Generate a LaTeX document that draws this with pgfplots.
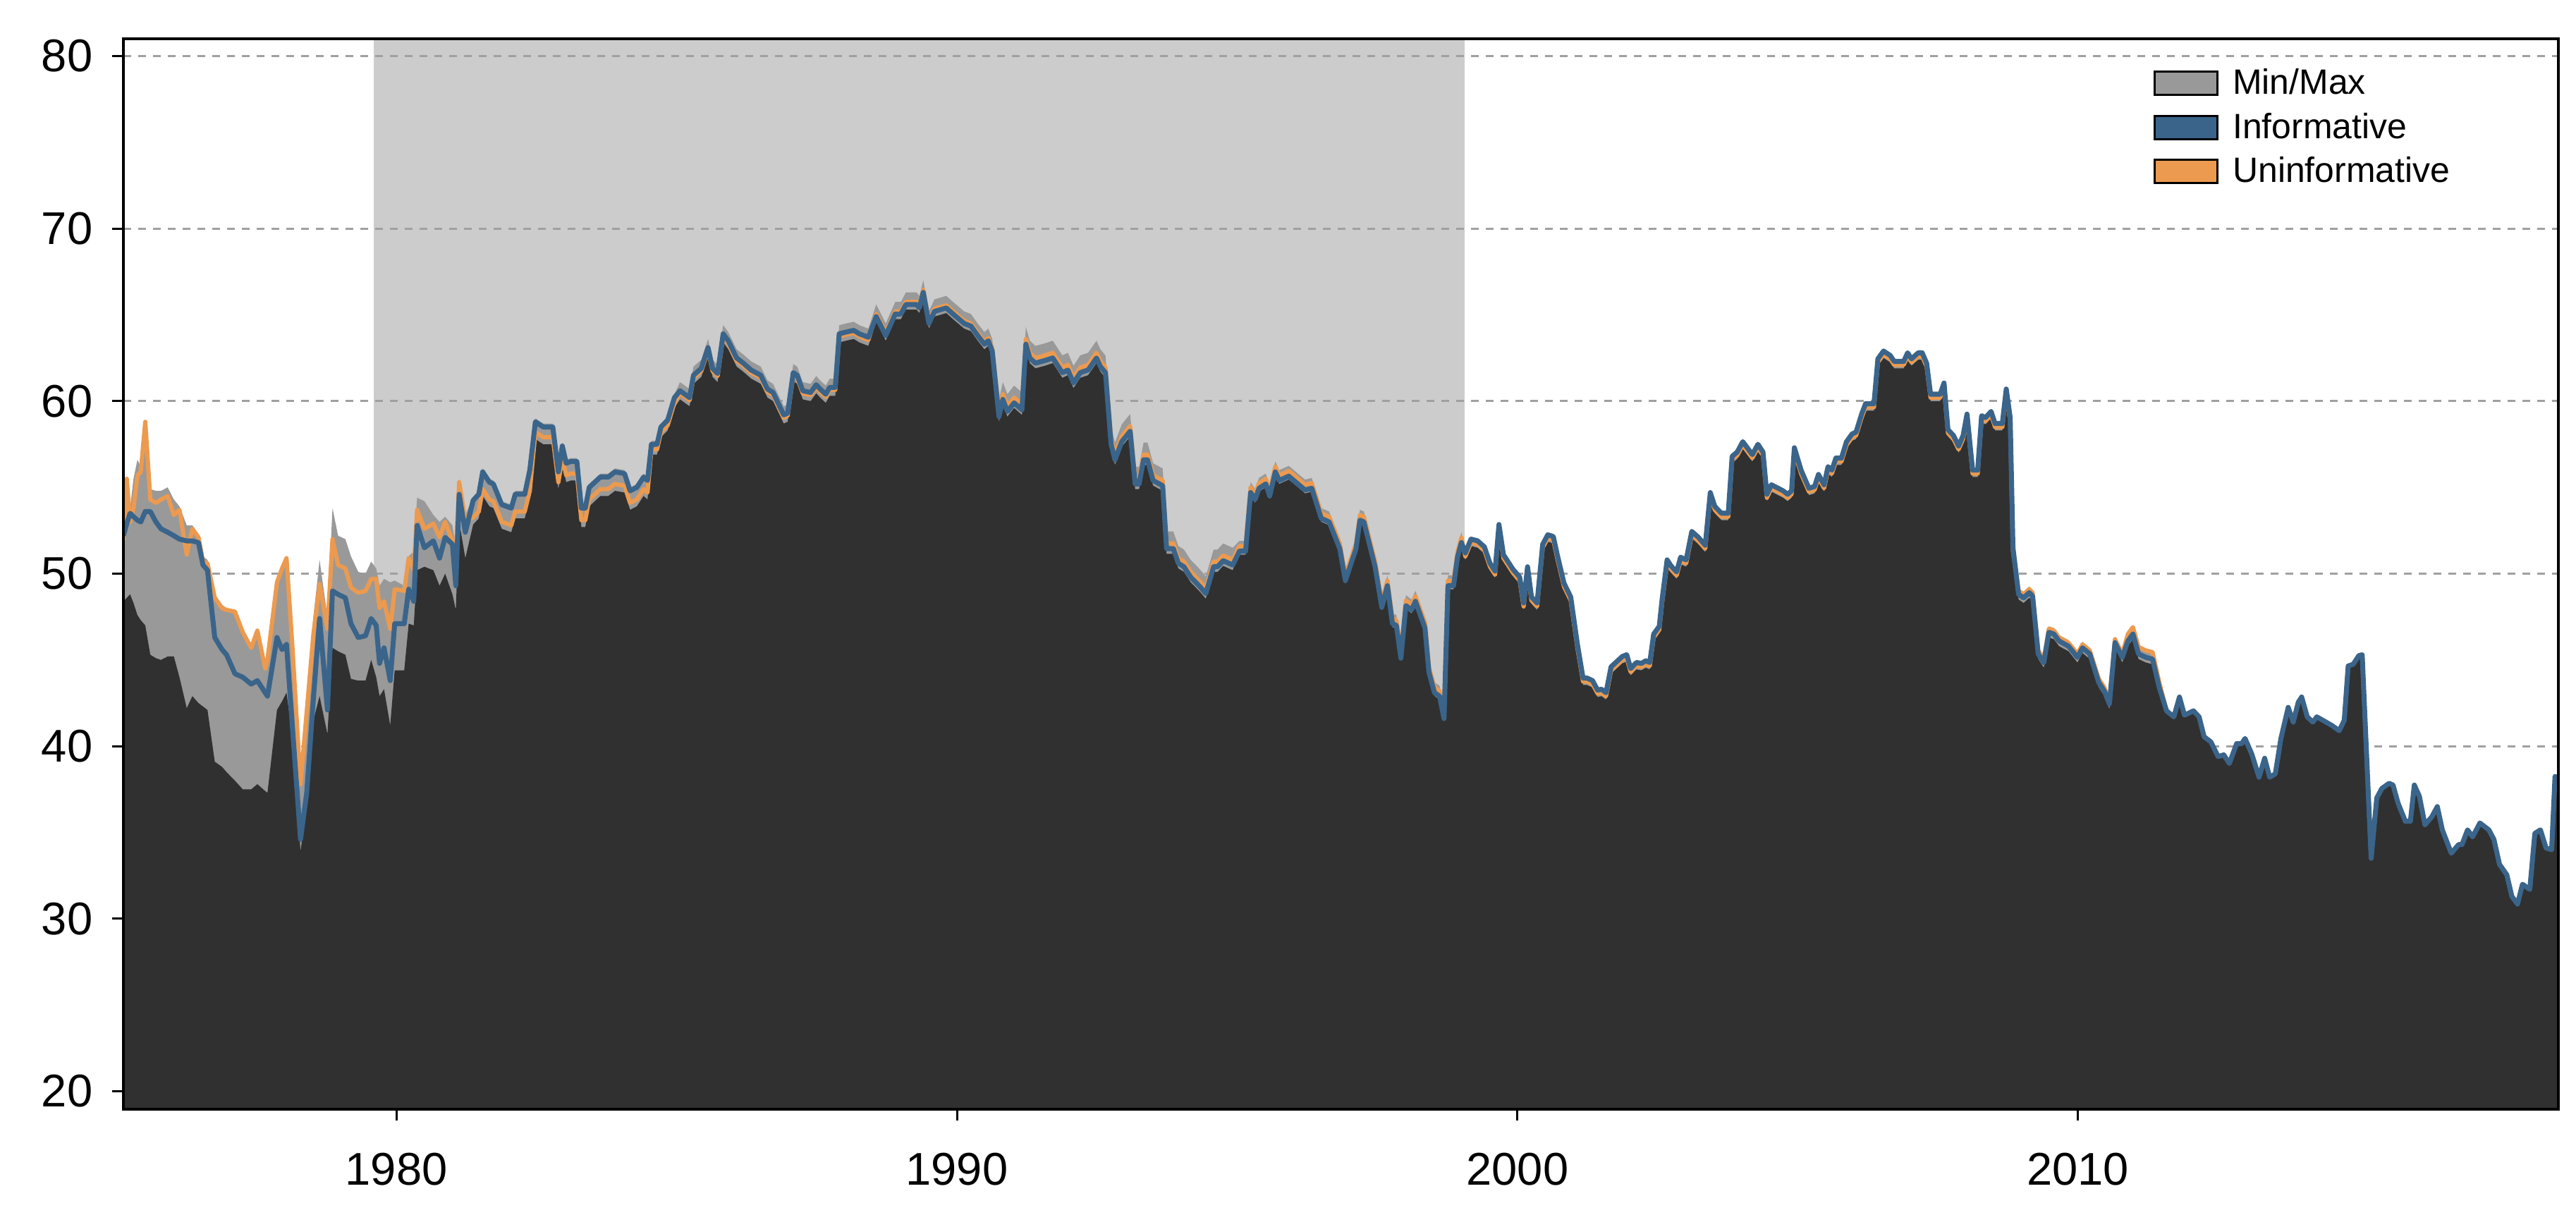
\documentclass[border=0pt]{standalone}
\usepackage{fontspec}
\setmainfont{Liberation Sans}
\usepackage{pgfplots}
\usepackage{pgfplotstable}
\pgfplotsset{compat=1.18}
\definecolor{spangray}{HTML}{CCCCCC}
\definecolor{mmgray}{HTML}{999999}
\definecolor{darkfill}{HTML}{303030}
\definecolor{infblue}{HTML}{3A648A}
\definecolor{unforange}{HTML}{EC9A4F}
\definecolor{gridgray}{HTML}{A0A0A0}
\pgfplotsset{
  layers/mylayers/.define layer set={
    axis background,axis grid,pre main,main,axis ticks,axis lines,
    axis tick labels,axis descriptions,axis foreground
  }{/pgfplots/layers/standard},
}
\pgfplotstableread{
x inf unf mn mx
1975.13 52.2 51.9 48.4 52.5
1975.19 52.9 55.5 48.6 55.6
1975.25 53.5 53.0 48.8 53.8
1975.31 53.3 53.8 48.3 55.5
1975.38 53.1 55.7 47.6 56.6
1975.44 53.0 55.9 47.3 56.2
1975.52 53.6 58.8 47.0 58.9
1975.61 53.6 54.3 45.3 54.9
1975.71 53.0 54.1 45.1 54.8
1975.80 52.6 54.3 45.0 54.8
1975.92 52.4 54.5 45.2 55.0
1976.03 52.2 53.4 45.2 54.3
1976.13 52.0 53.7 44.0 53.9
1976.26 51.9 51.1 42.2 52.8
1976.36 51.9 52.6 42.9 52.8
1976.47 51.8 52.1 42.5 52.3
1976.55 50.5 50.7 42.3 51.0
1976.63 50.2 50.6 42.1 50.8
1976.76 46.3 48.6 39.1 48.8
1976.89 45.6 48.0 38.8 48.2
1976.97 45.3 47.9 38.5 48.0
1977.12 44.2 47.8 38.0 47.9
1977.26 44.0 46.6 37.5 46.8
1977.41 43.6 45.7 37.5 45.9
1977.52 43.8 46.7 37.8 46.8
1977.66 43.1 44.5 37.4 44.7
1977.70 42.9 45.0 37.3 45.2
1977.87 46.3 49.5 42.1 49.6
1977.96 45.6 50.3 42.6 50.4
1978.04 45.9 50.9 43.1 51.0
1978.15 40.9 45.5 40.4 45.6
1978.29 34.6 37.8 33.9 37.9
1978.40 37.3 42.0 36.6 42.5
1978.52 42.8 46.5 41.5 47.5
1978.63 47.4 49.4 42.9 50.8
1978.77 42.1 46.8 40.7 47.5
1978.86 49.0 52.0 45.7 53.8
1978.96 48.8 50.5 45.5 52.2
1979.09 48.6 50.3 45.3 52.0
1979.19 47.1 49.2 43.9 51.0
1979.32 46.3 48.9 43.8 50.1
1979.45 46.4 49.0 43.8 50.0
1979.55 47.4 49.7 45.0 50.7
1979.64 47.0 49.7 44.0 50.3
1979.70 44.8 48.0 42.9 49.3
1979.78 45.7 48.4 43.3 49.7
1979.89 43.8 46.8 41.2 49.5
1979.97 47.1 49.1 44.4 49.6
1980.14 47.1 49.0 44.4 49.3
1980.22 49.1 50.9 47.1 51.0
1980.31 48.4 50.2 47.0 51.3
1980.37 52.8 53.7 50.2 54.4
1980.50 51.5 52.6 50.4 54.2
1980.66 51.9 52.9 50.2 53.4
1980.77 50.9 52.1 49.3 53.0
1980.87 52.1 53.0 50.0 53.3
1981.00 51.7 51.9 48.8 52.8
1981.06 49.3 51.1 47.9 51.5
1981.12 54.6 55.3 53.0 55.5
1981.23 52.4 53.1 50.9 53.4
1981.37 54.25 53.25 52.85 54.45
1981.47 54.6 53.6 53.2 54.8
1981.54 55.9 54.9 54.5 56.1
1981.66 55.3 54.3 53.9 55.5
1981.73 55.2 54.2 53.8 55.4
1981.88 54.0 53.0 52.6 54.2
1982.05 53.8 52.8 52.4 54.0
1982.12 54.6 53.6 53.2 54.8
1982.29 54.6 53.6 53.2 54.8
1982.38 56.0 54.8 54.4 56.2
1982.48 58.8 58.2 57.8 59.0
1982.62 58.5 57.9 57.5 58.7
1982.79 58.5 57.9 57.5 58.7
1982.89 55.9 55.3 54.9 56.1
1982.96 57.4 56.7 56.3 57.6
1983.03 56.4 55.7 55.3 56.6
1983.11 56.5 55.8 55.4 56.7
1983.22 56.5 55.8 55.4 56.7
1983.30 53.8 53.1 52.7 54.0
1983.37 53.8 53.1 52.7 54.0
1983.44 55.0 54.3 53.9 55.2
1983.64 55.6 54.9 54.5 55.8
1983.78 55.6 54.9 54.5 55.8
1983.90 55.9 55.2 54.8 56.1
1984.07 55.8 55.1 54.7 56.0
1984.17 54.8 54.1 53.7 55.0
1984.29 55.0 54.3 53.9 55.2
1984.41 55.6 54.9 54.5 55.8
1984.48 55.4 54.7 54.3 55.6
1984.55 57.5 57.2 56.9 57.7
1984.65 57.5 57.2 56.9 57.7
1984.72 58.5 58.2 57.9 58.7
1984.84 58.9 58.6 58.3 59.1
1984.96 60.2 59.9 59.6 60.4
1985.06 60.6 60.45 60.1 61.1
1985.23 60.2 60.05 59.7 60.7
1985.30 61.5 61.35 61.0 62.0
1985.44 61.9 61.75 61.4 62.4
1985.56 63.1 62.95 62.6 63.6
1985.64 61.9 61.75 61.4 62.4
1985.73 61.6 61.45 61.1 62.1
1985.83 63.9 63.75 63.4 64.4
1985.92 63.5 63.35 63.0 64.0
1986.07 62.5 62.35 62.0 63.0
1986.19 62.2 62.05 61.7 62.7
1986.33 61.8 61.65 61.3 62.3
1986.50 61.5 61.35 61.0 62.0
1986.62 60.7 60.55 60.2 61.2
1986.72 60.5 60.35 60.0 61.0
1986.91 59.2 59.05 58.7 59.7
1986.98 59.3 59.15 58.8 59.8
1987.08 61.65 61.5 61.15 62.15
1987.15 61.5 61.35 61.0 62.0
1987.25 60.6 60.45 60.1 61.1
1987.39 60.5 60.35 60.0 61.0
1987.49 60.95 60.8 60.45 61.45
1987.56 60.7 60.55 60.2 61.2
1987.66 60.4 60.25 59.9 60.9
1987.73 60.8 60.65 60.3 61.3
1987.83 60.8 60.65 60.3 61.3
1987.90 63.9 63.75 63.4 64.4
1988.02 64.0 63.85 63.5 64.5
1988.16 64.1 63.95 63.6 64.6
1988.26 63.9 63.75 63.4 64.4
1988.42 63.7 63.55 63.2 64.2
1988.56 64.9 65.05 64.6 65.6
1988.73 63.8 63.95 63.5 64.5
1988.90 65.05 65.2 64.75 65.75
1989.00 65.05 65.2 64.75 65.75
1989.09 65.6 65.75 65.3 66.3
1989.28 65.6 65.75 65.3 66.3
1989.33 65.4 65.55 65.1 66.1
1989.40 66.3 66.45 66.0 67.0
1989.50 64.5 64.65 64.2 65.2
1989.60 65.2 65.35 64.9 65.9
1989.81 65.4 65.55 65.1 66.1
1989.93 65.05 65.2 64.75 65.75
1990.13 64.5 64.65 64.2 65.2
1990.25 64.35 64.5 64.05 65.05
1990.37 63.8 63.95 63.5 64.5
1990.49 63.3 63.45 63.0 64.0
1990.56 63.5 63.65 63.2 64.2
1990.63 62.9 63.05 62.6 63.6
1990.75 59.1 59.4 58.8 60.1
1990.82 60.1 60.4 59.8 61.1
1990.90 59.4 59.7 59.1 60.4
1991.02 59.9 60.2 59.6 60.9
1991.16 59.5 59.8 59.2 60.5
1991.23 63.3 63.6 63.0 64.3
1991.30 62.5 62.8 62.2 63.5
1991.40 62.2 62.5 61.9 63.2
1991.57 62.35 62.65 62.05 63.35
1991.71 62.5 62.8 62.2 63.5
1991.88 61.65 61.95 61.35 62.65
1991.98 61.8 62.1 61.5 62.8
1992.08 61.05 61.35 60.75 62.05
1992.20 61.65 61.95 61.35 62.65
1992.34 61.8 62.1 61.5 62.8
1992.49 62.5 62.8 62.2 63.5
1992.56 62.0 62.3 61.7 63.0
1992.65 61.65 61.95 61.35 62.65
1992.75 57.5 57.8 57.2 58.5
1992.82 56.6 56.9 56.3 57.6
1992.94 57.65 57.95 57.35 58.65
1993.09 58.25 58.55 57.95 59.25
1993.18 55.2 55.5 54.9 56.2
1993.25 55.2 55.5 54.9 56.2
1993.33 56.6 56.9 56.3 57.6
1993.40 56.6 56.9 56.3 57.6
1993.50 55.4 55.7 55.1 56.4
1993.67 55.1 55.4 54.8 56.1
1993.74 51.45 51.75 51.15 52.45
1993.86 51.45 51.75 51.15 52.45
1993.95 50.6 50.9 50.3 51.6
1994.05 50.4 50.7 50.1 51.4
1994.17 49.8 50.1 49.5 50.8
1994.32 49.3 49.6 49.0 50.3
1994.44 48.85 49.15 48.55 49.85
1994.58 50.4 50.7 50.1 51.4
1994.65 50.4 50.7 50.1 51.4
1994.75 50.75 51.05 50.45 51.75
1994.92 50.5 50.8 50.2 51.5
1995.04 51.3 51.6 51.1 51.9
1995.15 51.3 51.6 51.1 51.9
1995.24 54.7 55.0 54.5 55.3
1995.32 54.3 54.6 54.1 54.9
1995.39 54.95 55.25 54.75 55.55
1995.51 55.2 55.5 55.0 55.8
1995.58 54.5 54.8 54.3 55.1
1995.68 55.9 56.2 55.7 56.5
1995.75 55.4 55.7 55.2 56.0
1995.92 55.65 55.95 55.45 56.25
1996.21 54.85 55.15 54.65 55.45
1996.33 54.95 55.25 54.75 55.55
1996.50 53.2 53.5 53.0 53.8
1996.64 53.0 53.3 52.8 53.6
1996.83 51.45 51.75 51.25 52.05
1996.93 49.6 49.9 49.4 50.2
1997.12 51.45 51.75 51.25 52.05
1997.19 53.1 53.4 52.9 53.7
1997.26 53.0 53.3 52.8 53.6
1997.46 50.4 50.7 50.2 51.0
1997.58 48.05 48.35 47.85 48.65
1997.68 49.3 49.6 49.1 49.9
1997.77 47.1 47.4 46.9 47.7
1997.84 47.0 47.3 46.8 47.6
1997.92 45.1 45.4 44.9 45.7
1998.01 48.15 48.45 47.95 48.75
1998.11 47.9 48.2 47.7 48.5
1998.18 48.4 48.7 48.2 49.0
1998.35 46.85 47.15 46.65 47.45
1998.42 44.3 44.6 44.1 44.9
1998.52 43.1 43.4 42.9 43.7
1998.61 42.9 43.2 42.7 43.5
1998.69 41.6 41.9 41.4 42.2
1998.76 49.3 49.6 49.1 49.9
1998.86 49.3 49.6 49.1 49.9
1998.93 50.95 51.25 50.75 51.55
1999.00 51.8 52.1 51.6 52.4
1999.07 51.2 51.0 50.8 51.35
1999.17 52.0 51.8 51.6 52.15
1999.29 51.9 51.7 51.5 52.05
1999.41 51.55 51.35 51.15 51.7
1999.51 50.6 50.4 50.2 50.75
1999.60 50.15 49.95 49.75 50.3
1999.67 52.85 52.65 52.45 53.0
1999.75 51.1 50.9 50.7 51.25
1999.92 50.25 50.05 49.85 50.4
2000.04 49.8 49.6 49.4 49.95
2000.11 48.3 48.1 47.9 48.45
2000.18 50.4 50.2 50.0 50.55
2000.25 48.65 48.45 48.25 48.8
2000.35 48.3 48.1 47.9 48.45
2000.45 51.7 51.5 51.3 51.85
2000.54 52.25 52.05 51.85 52.4
2000.64 52.15 51.95 51.75 52.3
2000.71 51.1 50.9 50.7 51.25
2000.83 49.45 49.25 49.05 49.6
2000.95 48.65 48.45 48.25 48.8
2001.07 45.9 45.7 45.5 46.05
2001.17 43.95 43.75 43.55 44.1
2001.24 43.95 43.75 43.55 44.1
2001.34 43.8 43.6 43.4 43.95
2001.43 43.25 43.05 42.85 43.4
2001.50 43.3 43.1 42.9 43.45
2001.58 43.1 42.9 42.7 43.25
2001.67 44.6 44.4 44.2 44.75
2001.87 45.2 45.0 44.8 45.35
2001.95 45.3 45.1 44.9 45.45
2002.02 44.5 44.3 44.1 44.65
2002.12 44.85 44.65 44.45 45.0
2002.21 44.8 44.6 44.4 44.95
2002.29 44.95 44.75 44.55 45.1
2002.36 44.85 44.65 44.45 45.0
2002.43 46.5 46.3 46.1 46.65
2002.53 46.95 46.75 46.55 47.1
2002.58 48.5 48.3 48.1 48.65
2002.67 50.8 50.6 50.4 50.95
2002.74 50.45 50.25 50.05 50.6
2002.84 50.1 49.9 49.7 50.25
2002.91 50.95 50.75 50.55 51.1
2003.01 50.8 50.6 50.4 50.95
2003.11 52.45 52.25 52.05 52.6
2003.23 52.1 51.9 51.7 52.25
2003.35 51.65 51.45 51.25 51.8
2003.44 54.7 54.5 54.3 54.85
2003.52 53.9 53.7 53.5 54.05
2003.64 53.5 53.3 53.1 53.65
2003.76 53.5 53.3 53.1 53.65
2003.83 56.8 56.6 56.4 56.95
2003.92 57.05 56.85 56.65 57.2
2004.02 57.65 57.45 57.25 57.8
2004.19 56.9 56.7 56.5 57.05
2004.29 57.5 57.3 57.1 57.65
2004.38 57.05 56.85 56.65 57.2
2004.45 54.6 54.4 54.2 54.75
2004.53 55.15 54.95 54.75 55.3
2004.65 54.95 54.75 54.55 55.1
2004.74 54.8 54.6 54.4 54.95
2004.82 54.6 54.4 54.2 54.75
2004.89 54.8 54.6 54.4 54.95
2004.94 57.3 57.1 56.9 57.45
2005.06 56.0 55.8 55.6 56.15
2005.20 54.95 54.75 54.55 55.1
2005.30 55.05 54.85 54.65 55.2
2005.37 55.75 55.55 55.35 55.9
2005.47 55.15 54.95 54.75 55.3
2005.54 56.2 56.0 55.8 56.35
2005.61 56.0 55.8 55.6 56.15
2005.68 56.7 56.5 56.3 56.85
2005.78 56.7 56.5 56.3 56.85
2005.87 57.65 57.45 57.25 57.8
2005.97 58.1 57.9 57.7 58.25
2006.04 58.2 58.0 57.8 58.35
2006.14 59.25 59.05 58.85 59.4
2006.21 59.85 59.65 59.45 60.0
2006.36 59.85 59.65 59.45 60.0
2006.43 62.45 62.25 62.05 62.6
2006.53 62.9 62.7 62.5 63.05
2006.65 62.65 62.45 62.25 62.8
2006.72 62.3 62.1 61.9 62.45
2006.89 62.3 62.1 61.9 62.45
2006.96 62.8 62.6 62.4 62.95
2007.03 62.45 62.25 62.05 62.6
2007.15 62.8 62.6 62.4 62.95
2007.22 62.8 62.6 62.4 62.95
2007.30 62.2 62.0 61.8 62.35
2007.37 60.4 60.2 60.0 60.55
2007.44 60.4 60.2 60.0 60.55
2007.54 60.4 60.2 60.0 60.55
2007.61 61.05 60.85 60.65 61.2
2007.68 58.35 58.15 57.95 58.5
2007.78 58.0 57.8 57.6 58.15
2007.87 57.4 57.2 57.0 57.55
2007.95 58.0 57.8 57.6 58.15
2008.02 59.25 59.05 58.85 59.4
2008.12 56.0 55.8 55.6 56.15
2008.21 56.0 55.8 55.6 56.15
2008.28 59.15 58.95 58.75 59.3
2008.35 59.05 58.85 58.65 59.2
2008.45 59.4 59.2 59.0 59.55
2008.52 58.7 58.5 58.3 58.85
2008.65 58.7 58.5 58.3 58.85
2008.72 60.7 60.5 60.3 60.85
2008.79 59.05 58.85 58.65 59.2
2008.84 51.5 51.3 51.1 51.65
2008.94 48.8 49.0 48.5 49.15
2009.03 48.6 48.8 48.3 48.95
2009.13 48.9 49.1 48.6 49.25
2009.19 48.7 48.9 48.4 49.05
2009.29 45.35 45.55 45.05 45.7
2009.39 44.85 45.05 44.55 45.2
2009.48 46.6 46.8 46.3 46.95
2009.57 46.5 46.7 46.2 46.85
2009.66 46.1 46.3 45.8 46.45
2009.83 45.8 46.0 45.5 46.15
2009.99 45.15 45.35 44.85 45.5
2010.08 45.7 45.9 45.4 46.05
2010.21 45.35 45.55 45.05 45.7
2010.37 43.7 43.9 43.4 44.05
2010.47 43.2 43.4 42.9 43.55
2010.56 42.45 42.65 42.15 42.8
2010.66 46.0 46.2 45.7 46.35
2010.79 45.15 45.35 44.85 45.5
2010.89 46.1 46.5 45.8 46.6
2010.98 46.5 46.9 46.2 47.0
2011.08 45.35 45.75 45.05 45.85
2011.21 45.15 45.55 44.85 45.65
2011.33 45.05 45.45 44.75 45.55
2011.45 43.4 43.7 43.1 43.8
2011.58 42.05 42.05 41.95 42.15
2011.71 41.7 41.7 41.6 41.8
2011.81 42.85 42.85 42.75 42.95
2011.90 41.8 41.8 41.7 41.9
2012.06 42.05 42.05 41.95 42.15
2012.16 41.7 41.7 41.6 41.8
2012.25 40.55 40.55 40.45 40.65
2012.37 40.25 40.25 40.15 40.35
2012.50 39.4 39.4 39.3 39.5
2012.60 39.5 39.5 39.4 39.6
2012.70 39.0 39.0 38.9 39.1
2012.83 40.15 40.15 40.05 40.25
2012.92 40.15 40.15 40.05 40.25
2012.98 40.45 40.45 40.35 40.55
2013.10 39.55 39.55 39.45 39.65
2013.23 38.2 38.2 38.1 38.3
2013.33 39.3 39.3 39.2 39.4
2013.42 38.2 38.2 38.1 38.3
2013.52 38.4 38.4 38.3 38.5
2013.62 40.45 40.45 40.35 40.55
2013.75 42.25 42.25 42.15 42.35
2013.84 41.4 41.4 41.3 41.5
2013.93 42.55 42.55 42.45 42.65
2013.99 42.85 42.85 42.75 42.95
2014.09 41.7 41.7 41.6 41.8
2014.19 41.4 41.4 41.3 41.5
2014.26 41.7 41.7 41.6 41.8
2014.37 41.5 41.5 41.4 41.6
2014.53 41.2 41.2 41.1 41.3
2014.66 40.9 40.9 40.8 41.0
2014.75 41.5 41.5 41.4 41.6
2014.82 44.65 44.65 44.55 44.75
2014.91 44.75 44.75 44.65 44.85
2015.01 45.25 45.25 45.15 45.35
2015.07 45.3 45.3 45.2 45.4
2015.23 33.5 33.5 33.4 33.6
2015.33 37.0 37.0 36.9 37.1
2015.42 37.55 37.55 37.45 37.65
2015.55 37.85 37.85 37.75 37.95
2015.62 37.75 37.75 37.65 37.85
2015.71 36.7 36.7 36.6 36.8
2015.84 35.65 35.65 35.55 35.75
2015.93 35.65 35.65 35.55 35.75
2016.00 37.75 37.75 37.65 37.85
2016.09 37.1 37.1 37.0 37.2
2016.19 35.45 35.45 35.35 35.55
2016.31 35.9 35.9 35.8 36.0
2016.41 36.5 36.5 36.4 36.6
2016.50 35.15 35.15 35.05 35.25
2016.66 33.8 33.8 33.7 33.9
2016.79 34.3 34.3 34.2 34.4
2016.85 34.3 34.3 34.2 34.4
2016.95 35.15 35.15 35.05 35.25
2017.04 34.75 34.75 34.65 34.85
2017.17 35.55 35.55 35.45 35.65
2017.33 35.15 35.15 35.05 35.25
2017.42 34.6 34.6 34.5 34.7
2017.52 33.15 33.15 33.05 33.25
2017.65 32.55 32.55 32.45 32.65
2017.74 31.3 31.3 31.2 31.4
2017.84 30.85 30.85 30.75 30.95
2017.93 32.0 32.0 31.9 32.1
2018.06 31.7 31.7 31.6 31.8
2018.15 34.95 34.95 34.85 35.05
2018.25 35.15 35.15 35.05 35.25
2018.35 34.1 34.1 34.0 34.2
2018.45 34.0 34.0 33.9 34.1
2018.51 38.25 38.25 38.15 38.35
2018.57 38.15 38.15 38.05 38.25
}\data
\begin{document}
\begin{tikzpicture}
\begin{axis}[
  set layers=mylayers,
  scale only axis,
  width=34.53cm, height=15.18cm,
  xmin=1975.13, xmax=2018.57,
  ymin=18.96, ymax=81.0,
  xtick={1980,1990,2000,2010},
  ytick={20,30,40,50,60,70,80},
  xtick pos=bottom, ytick pos=left,
  tick align=outside,
  major tick length=0.16cm,
  every tick/.style={black, line width=0.03cm},
  axis line style={black, line width=0.04cm},
  ymajorgrids,
  grid style={gridgray, line width=0.03cm, dash pattern=on 0.11cm off 0.1cm},
  /pgf/number format/assume math mode=true,
  /pgf/number format/1000 sep={},
  ticklabel style={font=\fontsize{18.5}{22}\selectfont, inner sep=0pt},
  yticklabel shift=0.27cm,
  xticklabel shift=0.45cm,
  legend style={draw=none, fill=none, at={(0.8306,0.977)}, anchor=north west,
    font=\fontsize{14.2}{17}\selectfont, row sep=0.21cm,
    nodes={inner sep=0pt}, column sep=0.2cm},
  legend cell align=left,
  legend image code/.code={\draw[#1, line width=0.03cm] (0cm,-0.165cm) rectangle (0.89cm,0.165cm);},
]
\addplot[fill=spangray, draw=none, forget plot, on layer=axis background]
  coordinates {(1979.59,18.96) (1979.59,81.0) (1999.06,81.0) (1999.06,18.96)};
\addplot[draw=none, fill=mmgray, forget plot] table[x=x,y=mx]{\data} \closedcycle;
\addplot[draw=none, fill=darkfill, forget plot] table[x=x,y=mn]{\data} \closedcycle;
\addplot[unforange, line width=0.06cm, line join=round, forget plot] table[x=x,y=unf]{\data};
\addplot[infblue, line width=0.07cm, line join=round, forget plot] table[x=x,y=inf]{\data};
\addlegendimage{fill=mmgray, draw=black}
\addlegendentry{Min/Max}
\addlegendimage{fill=infblue, draw=black}
\addlegendentry{Informative}
\addlegendimage{fill=unforange, draw=black}
\addlegendentry{Uninformative}
\end{axis}
\path (-1.75cm,-1.49cm) rectangle (34.78cm,15.73cm);
\end{tikzpicture}
\end{document}
